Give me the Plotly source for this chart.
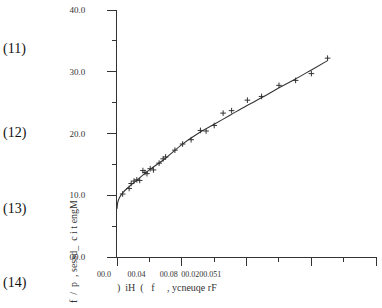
import plotly.graph_objects as go

# measured points (frequency, magnetic losses per cycle)
freq = [7, 15, 17.5, 21, 24.5, 28, 32, 34.5, 37, 41, 45, 52, 57, 60, 71.5, 81, 91.5,
        103, 110, 120, 131, 141.5, 161, 178.5, 200, 220.5, 240, 260]
loss = [10.2, 11.1, 11.9, 12.3, 12.5, 12.4, 14.0, 13.7, 13.5, 14.3, 14.1, 15.2, 15.9, 16.2,
        17.3, 18.3, 19.0, 20.5, 20.4, 21.3, 23.3, 23.7, 25.4, 26.0, 27.8, 28.6, 29.7, 32.2]

# fitted curve
fit_x = [0, 1, 3, 7, 15, 25, 40, 60, 80, 100, 120, 140, 160, 180, 200, 220, 240, 260]
fit_y = [7.8, 8.9, 9.6, 10.4, 11.4, 12.5, 14.1, 16.0, 18.2, 20.0, 21.5, 23.0, 24.5,
         25.9, 27.4, 28.8, 30.3, 31.8]

x_label_vals = [0, 40, 80, 120]
x_label_text = ["00.0", "00.04", "00.08", "00.0200.051"]
y_tick_vals = [0, 10, 20, 30, 40]
y_tick_text = ["00.0", "10.0", "20.0", "30.0", "40.0"]
side_labels = ["(11)", "(12)", "(13)", "(14)"]
side_label_y = [46, 131, 208, 283]

XR = [0, 321]
YR = [0, 40]
L, R, T, B = 117, 5, 6, 51
W, H = 382, 308

fig = go.Figure()
fig.add_trace(go.Scatter(x=fit_x, y=fit_y, mode="lines", line=dict(color="#333", width=1.1, shape="spline"),
                         showlegend=False, hoverinfo="skip"))
fig.add_trace(go.Scatter(x=freq, y=loss, mode="markers",
                         marker=dict(symbol="cross-thin", size=4, line=dict(color="#333", width=1)),
                         showlegend=False))
fig.add_trace(go.Scatter(x=[0], y=[0], xaxis="x2", mode="markers", marker=dict(opacity=0),
                         showlegend=False, hoverinfo="skip"))

tickfont = dict(family="Liberation Serif", size=9, color="#333")
xtickfont = dict(family="Liberation Serif", size=8, color="#333")
fig.update_layout(
    width=W, height=H, margin=dict(l=L, r=R, t=T, b=B),
    paper_bgcolor="white", plot_bgcolor="white",
    xaxis=dict(range=XR, showgrid=False, zeroline=False, showline=True, linecolor="#333", linewidth=1,
               ticks="outside", tickmode="linear", tick0=0, dtick=80, ticklen=8, tickcolor="#333",
               showticklabels=False,
               minor=dict(ticks="outside", tickmode="linear", tick0=0, dtick=40, ticklen=4, tickcolor="#333")),
    xaxis2=dict(range=XR, overlaying="x", anchor="y", side="bottom", showgrid=False, zeroline=False,
                showline=False, ticks="", tickmode="array", tickvals=x_label_vals, ticktext=x_label_text,
                tickangle=0, tickfont=xtickfont, ticklabelshift=-13, ticklabelstandoff=11),
    yaxis=dict(range=YR, showgrid=False, zeroline=False, showline=True, linecolor="#333", linewidth=1,
               ticks="outside", tickmode="array", tickvals=y_tick_vals, ticktext=y_tick_text,
               ticklen=9, tickcolor="#333", tickfont=tickfont, ticklabelstandoff=20,
               minor=dict(ticks="outside", tickmode="linear", tick0=0, dtick=5, ticklen=4, tickcolor="#333")),
)

pw = W - L - R
ph = H - T - B
annotations = []
for txt, py in zip(side_labels, side_label_y):
    annotations.append(dict(text=txt, xref="paper", yref="paper", x=(1 - L) / pw, y=(H - B - py) / ph,
                            xanchor="left", yanchor="middle", showarrow=False,
                            font=dict(family="Liberation Serif", size=14, color="#111")))
annotations.append(dict(text="f  /  p  , sessd_  c i t engM", xref="paper", yref="paper",
                        x=(73 - L) / pw, y=(H - B - 252) / ph, textangle=-90, showarrow=False,
                        xanchor="center", yanchor="middle",
                        font=dict(family="Liberation Serif", size=10, color="#333")))
annotations.append(dict(text=")  iH  (   f     , ycneuqe rF", xref="paper", yref="paper",
                        x=(167 - L) / pw, y=(H - B - 288) / ph, showarrow=False,
                        xanchor="center", yanchor="middle",
                        font=dict(family="Liberation Serif", size=10, color="#333")))
fig.update_layout(annotations=annotations)

fig.write_html("out.html")
